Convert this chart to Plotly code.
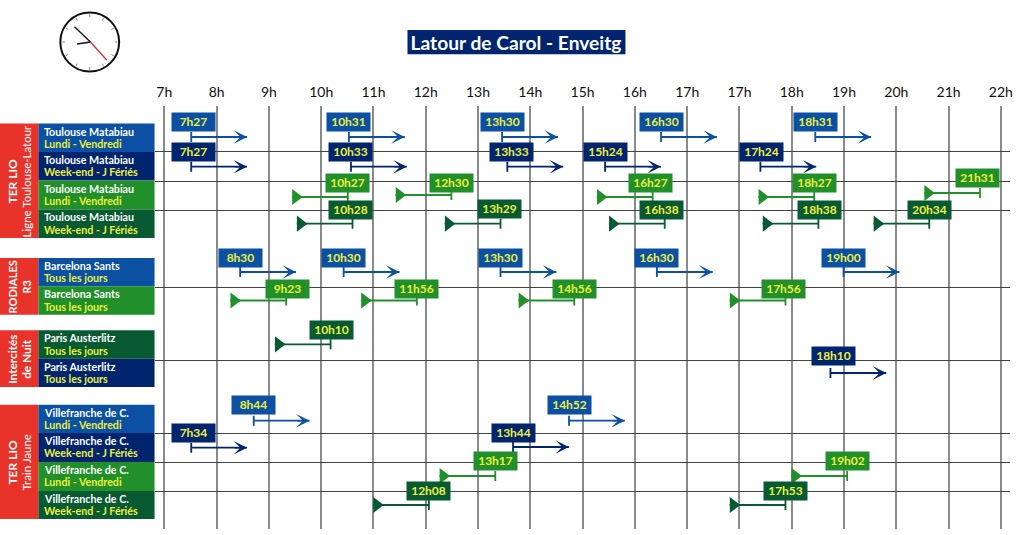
import math
import plotly.graph_objects as go

W, H = 1024, 535
FONT = "Lato"
BLUE, NAVY, GREEN, DGREEN = "#0b50a2", "#00256e", "#22902a", "#075a32"
RED, YEL = "#e8332a", "#eef03c"

# axis: slots of the printed time scale (17h is printed twice in the source)
HOUR_LABELS = ["7h","8h","9h","10h","11h","12h","13h","14h","15h","16h","17h","17h","18h","19h","20h","21h","22h"]

# row categories
ROW_LINE1 = ["Toulouse Matabiau"]*4 + ["Barcelona Sants"]*2 + ["Paris Austerlitz"]*2 + ["Villefranche de C."]*4
ROW_LINE2 = ["Lundi - Vendredi","Week-end - J Fériés","Lundi - Vendredi","Week-end - J Fériés",
             "Tous les jours","Tous les jours","Tous les jours","Tous les jours",
             "Lundi - Vendredi","Week-end - J Fériés","Lundi - Vendredi","Week-end - J Fériés"]
ROW_COLOR = [BLUE,NAVY,GREEN,DGREEN, BLUE,GREEN, DGREEN,NAVY, BLUE,NAVY,GREEN,DGREEN]
ROW_DIR = ["dep","dep","arr","arr","dep","arr","arr","dep","dep","dep","arr","arr"]

# series: printed times and where each tick was read on the scale
TIMES_0 = ["7h27","10h31","13h30","16h30","18h31"];  AT_0 = [0.515,3.53,6.46,9.50,12.45]
TIMES_1 = ["7h27","10h33","13h33","15h24","17h24"];  AT_1 = [0.515,3.57,6.56,8.43,11.40]
TIMES_2 = ["10h27","12h30","16h27","18h27","21h31"]; AT_2 = [3.51,5.49,9.34,12.43,15.60]
TIMES_3 = ["10h28","13h29","16h38","18h38","20h34"]; AT_3 = [3.60,6.43,9.57,12.51,14.63]
TIMES_4 = ["8h30","10h30","13h30","16h30","19h00"];  AT_4 = [1.45,3.43,6.43,9.42,12.99]
TIMES_5 = ["9h23","11h56","14h56","17h56"];          AT_5 = [2.33,4.83,7.84,11.88]
TIMES_6 = ["10h10"];                                 AT_6 = [3.18]
TIMES_7 = ["18h10"];                                 AT_7 = [12.74]
TIMES_8 = ["8h44","14h52"];                          AT_8 = [1.71,7.74]
TIMES_9 = ["7h34","13h44"];                          AT_9 = [0.515,6.67]
TIMES_10 = ["13h17","19h02"];                        AT_10 = [6.33,13.06]
TIMES_11 = ["12h08","17h53"];                        AT_11 = [5.06,11.88]
ALL_TIMES = [TIMES_0,TIMES_1,TIMES_2,TIMES_3,TIMES_4,TIMES_5,TIMES_6,TIMES_7,TIMES_8,TIMES_9,TIMES_10,TIMES_11]
ALL_AT = [AT_0,AT_1,AT_2,AT_3,AT_4,AT_5,AT_6,AT_7,AT_8,AT_9,AT_10,AT_11]

# ---- layout ----
PX = 52.44
X0 = 164.8
ROW_TOP = [123.5,152,180.5,209.5,258,286.3,330.3,358.7,404.7,433,462,491]
ROW_H = [28.5,28.5,29,28.5,28.3,28.4,28.4,28.3,28.3,29,29,28]
BOX_Y = [122.5,152,183,210,258,289,330,356,404.7,433,461,491]
LINE_Y = [137,166.7,197,223.7,272,300.5,344.3,373,420.7,447.7,476,505]
GROUPS = [(123.5,238,"TER LIO","Ligne Toulouse-Latour",False,12),
          (258,314.7,"RODIALES","R3",True,11),
          (330.3,387,"Intercités","de Nuit",True,11.8),
          (404.7,519,"TER LIO","Train Jaune",False,12)]
H_LINES = [151.5,181,210,287,360,433,462,491]
BOX_NUDGE = {(0,"7h27"):2,(1,"7h27"):2,(1,"13h33"):4,(1,"17h24"):1,(2,"16h27"):-2.5,(2,"21h31"):-2,
             (3,"10h28"):-2,(3,"13h29"):-1.5,(3,"16h38"):-3,(3,"18h38"):1,(5,"9h23"):1,(5,"17h56"):-2,
             (6,"10h10"):0.5,(7,"18h10"):3,(9,"7h34"):2}
BOX_DY = {(2,"21h31"):-4.5,(3,"13h29"):-1}
LINE_DY = {(2,"12h30"):-2,(2,"21h31"):-4,(9,"13h44"):-0.7}
ARROW_LEN = 56/PX

def px(x): return x/W
def py(y): return 1-y/H

shapes, ann = [], []
def rect(x0,y0,x1,y1,color):
    shapes.append(dict(type="rect",xref="paper",yref="paper",x0=px(x0),x1=px(x1),y0=py(y0),y1=py(y1),
                       fillcolor=color,line=dict(width=0),layer="above"))
def text(x,y,t,size,color,bold=False,anchor="center",angle=0,width=None):
    ann.append(dict(xref="paper",yref="paper",x=px(x),y=py(y),text=f"<b>{t}</b>" if bold else t,showarrow=False,
                    xanchor=anchor,yanchor="middle",textangle=angle,width=width,height=16,borderpad=0,borderwidth=0,
                    align=anchor if anchor!="center" else "center",valign="middle",
                    font=dict(family=FONT,size=size,color=color)))

# title
rect(408.7,30,627.3,54.3,NAVY)
ann.append(dict(xref="paper",yref="paper",x=px(518),y=py(41.5),text="<b>Latour de Carol - Enveitg</b>",showarrow=False,
                width=300,height=24,borderpad=0,xanchor="center",yanchor="middle",align="center",valign="middle",
                font=dict(family=FONT,size=19.2,color="white")))

# clock
CX, CY = 90, 42
shapes.append(dict(type="circle",xref="paper",yref="paper",x0=px(CX-29.5),x1=px(CX+29.5),y0=py(CY+29.5),y1=py(CY-29.5),
                   line=dict(color="#111",width=2),fillcolor="white"))
for i in range(12):
    a = math.radians(i*30)
    shapes.append(dict(type="line",xref="paper",yref="paper",x0=px(CX+25*math.sin(a)),x1=px(CX+28*math.sin(a)),
                       y0=py(CY-25*math.cos(a)),y1=py(CY-28*math.cos(a)),line=dict(color="#888",width=1)))
for (x1,y1,c,w) in [(74.7,26.7,"#111",1.3),(77.3,44,"#111",1.5),(107,60,"#e0202a",1.2)]:
    shapes.append(dict(type="line",xref="paper",yref="paper",x0=px(CX+0.7),x1=px(x1),y0=py(CY),y1=py(y1),line=dict(color=c,width=w)))

# left blocks
for top,bottom,a,b,bold2,fs in GROUPS:
    rect(0,top,38.5,bottom,RED)
    mid=(top+bottom)/2
    text(12.5,mid,a,fs,"white",True,angle=-90,width=140)
    text(26.5,mid,b,11.5 if not bold2 else fs,"white",bold2,angle=-90,width=140)
for i in range(12):
    rect(38.5,ROW_TOP[i],155,ROW_TOP[i]+ROW_H[i],ROW_COLOR[i])
    text(44,ROW_TOP[i]+7,ROW_LINE1[i],10.7,"white",True,anchor="left",width=110)
    text(44,ROW_TOP[i]+19.2,ROW_LINE2[i],10.7,YEL,True,anchor="left",width=110)

fig = go.Figure()
arrows=[]
for r,(times,ats) in enumerate(zip(ALL_TIMES,ALL_AT)):
    c = ROW_COLOR[r]
    lx, ly, tx, ty = [], [], [], []
    for t,a in zip(times,ats):
        y = LINE_Y[r]+LINE_DY.get((r,t),0)
        end = a+ARROW_LEN if ROW_DIR[r]=="dep" else a-ARROW_LEN
        lx += [a,a,None,a,end,None]
        ly += [y-5,y+5,None,y,y,None]
        if ROW_DIR[r]=="dep":
            arrows.append(dict(x=end,y=y,ax=end-14/PX,ay=y,xref="x",yref="y",axref="x",ayref="y",text="",showarrow=True,
                               arrowhead=3,arrowsize=1.4,arrowwidth=1.6,arrowcolor=c,standoff=0))
        else:
            tx.append(end+3.7/PX); ty.append(y)
        xb = a+BOX_NUDGE.get((r,t),0)/PX
        yb = BOX_Y[r]+BOX_DY.get((r,t),0)
        ann.append(dict(x=xb,y=yb,xref="x",yref="y",text=f"<b>{t}</b>",showarrow=False,bgcolor=c,width=43,height=17.5,
                        borderpad=0,align="center",valign="middle",xanchor="center",yanchor="middle",
                        font=dict(family=FONT,size=12,color=YEL)))
    fig.add_trace(go.Scatter(x=lx,y=ly,mode="lines",line=dict(color=c,width=1.8),hoverinfo="skip",showlegend=False,connectgaps=False))
    if tx:
        fig.add_trace(go.Scatter(x=tx,y=ty,mode="markers",marker=dict(symbol="triangle-right",size=14,color=c),hoverinfo="skip",showlegend=False))

fig.update_layout(
    width=W,height=H,autosize=False,margin=dict(l=0,r=0,t=0,b=0),paper_bgcolor="white",plot_bgcolor="white",
    showlegend=False,shapes=shapes,annotations=ann+arrows,
    xaxis=dict(domain=[155/W,1013/W],range=[(155-X0)/PX,(1013-X0)/PX],side="top",tickmode="array",
               tickvals=list(range(len(HOUR_LABELS))),ticktext=HOUR_LABELS,showgrid=True,gridcolor="#8a8a8a",gridwidth=1.6,
               ticks="outside",ticklen=2,tickcolor="rgba(0,0,0,0)",zeroline=False,showline=False,
               tickfont=dict(family=FONT,size=14,color="#111")),
    yaxis=dict(domain=[1-529/H,1-106/H],range=[529,106],tickmode="array",tickvals=H_LINES,showticklabels=False,showgrid=True,
               gridcolor="#444",gridwidth=1,zeroline=False,showline=False,ticks=""),
)
fig.write_html("out.html",config={"displayModeBar":False},post_script="document.body.style.margin='0';document.body.style.overflow='hidden';")
